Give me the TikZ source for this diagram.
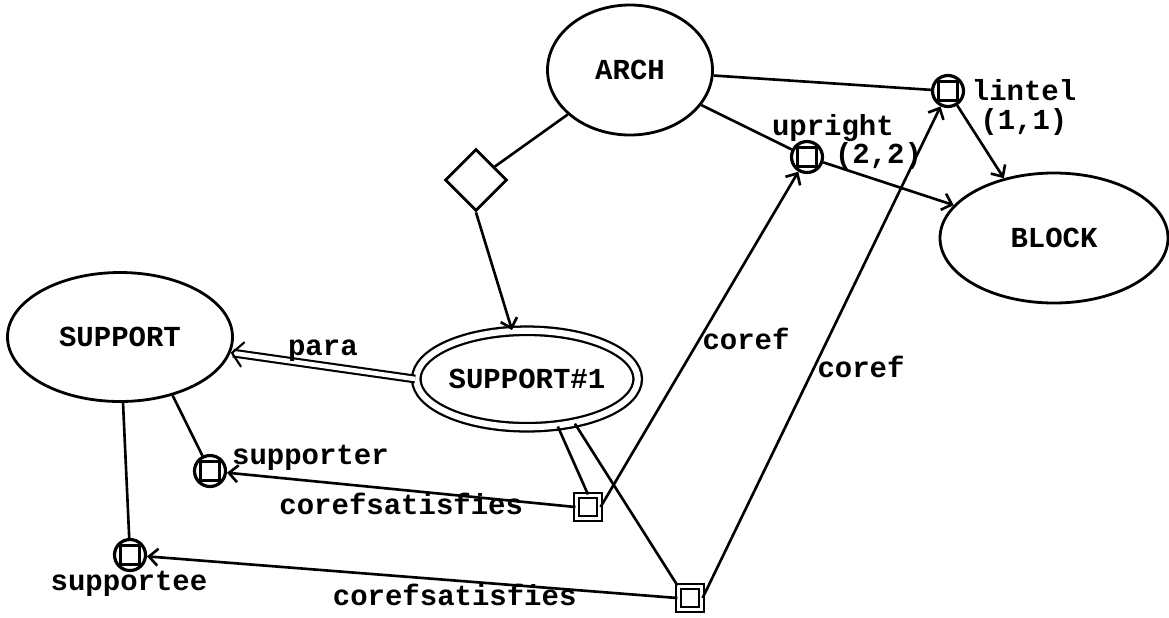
\documentclass[tikz,border=0pt]{standalone}
\usepackage{fontspec}
\setmonofont{Liberation Mono}
\usetikzlibrary{arrows.meta,shapes.geometric}

\begin{document}
\begin{tikzpicture}[
      concepto/.style={ellipse, draw, line width=1.6pt, inner sep=0pt,
        font=\ttfamily\bfseries\fontsize{16.5}{19}\selectfont},
      rol/.style={circle, draw, line width=1.8pt, minimum size=0.62cm, inner sep=0pt,
        path picture={\draw[line width=1.2pt]
          ([shift={(-0.19,-0.19)}]path picture bounding box.center) rectangle
          ([shift={(0.19,0.19)}]path picture bounding box.center);}},
      doble/.style={rectangle, draw, double, double distance=1.8pt, line width=1.2pt,
        minimum size=0.46cm, inner sep=0pt},
      rombo/.style={diamond, draw, line width=1.6pt, minimum width=1.24cm,
        minimum height=1.24cm, inner sep=0pt},
      linea/.style={draw, line width=1.5pt},
      flecha/.style={-{Straight Barb[length=1.8mm,width=3.4mm]}, draw, line width=1.5pt},
      paralelo/.style={double, double distance=2.6pt, line width=1.2pt,
        -{Straight Barb[length=2.2mm,width=5mm]}},
      etiqueta/.style={font=\ttfamily\bfseries\fontsize{16.5}{19}\selectfont, inner sep=1pt},
      dosrenglones/.style={etiqueta, align=left,
        font=\ttfamily\bfseries\fontsize{16.5}{12.8}\selectfont},
    ]
    \useasboundingbox (0,0) rectangle (23.38,-12.34);

    \node[concepto, minimum width=3.3cm, minimum height=2.6cm]   (arch)    at (12.6,-1.4)   {ARCH};
    \node[concepto, minimum width=4.56cm, minimum height=2.6cm]  (block)   at (21.08,-4.76) {BLOCK};
    \node[concepto, minimum width=4.5cm, minimum height=2.58cm]  (support) at (2.4,-6.74)   {SUPPORT};
    \node[concepto, double, double distance=3.5pt, line width=1.3pt,
          minimum width=3.97cm, minimum height=1.93cm]           (sup1)    at (10.54,-7.58) {SUPPORT\#1};
    \node[rombo] (rel) at (9.52,-3.6) {};

    \node[rol] (lintel)    at (18.96,-1.82) {};
    \node[rol] (upright)   at (16.14,-3.14) {};
    \node[rol] (supporter) at (4.2,-9.42)   {};
    \node[rol] (supportee) at (2.6,-11.1)   {};
    \node[doble] (cs1) at (11.76,-10.14) {};
    \node[doble] (cs2) at (13.8,-11.96)  {};

    \node[etiqueta, inner sep=0pt, anchor=west] (tlintel) at (19.43,-1.8)  {lintel};
    \node[etiqueta, inner sep=0pt, anchor=west] (tcard1)  at (19.6,-2.44)  {(1,1)};
    \node[dosrenglones] (tupright)  at (16.94,-2.84) {upright\\\hspace{1.26cm}(2,2)};
    \node[etiqueta, anchor=west] (tsupporter) at (4.6,-9.16) {supporter};
    \node[etiqueta] (tsupportee) at (2.58,-11.68) {supportee};

    \draw[linea] (arch) -- (lintel);
    \draw[linea] (arch) -- (upright);
    \draw[linea] (arch) -- (rel);
    \draw[flecha] (rel.south) -- (sup1);
    \draw[flecha] (upright) -- (block);
    \draw[flecha] (lintel) -- (block.130);
    \draw[paralelo] (sup1.west) -- node[etiqueta, above=1pt] {para} (support);
    \draw[linea] (support.-48) -- (supporter);
    \draw[linea] (support) -- (supportee);
    \draw[linea] (sup1.-57) -- (cs1.north);
    \draw[linea] (sup1.-43) -- (cs2.north west);
    \draw[flecha] (cs1.east) -- node[etiqueta, right, pos=0.5] {coref} (upright);
    \draw[flecha] (cs2.east) -- node[etiqueta, right, pos=0.47] {coref} (lintel);
    \draw[flecha] (cs1.west) -- node[etiqueta, below, pos=0.5] {corefsatisfies} (supporter);
    \draw[flecha] (cs2.west) -- node[etiqueta, below, pos=0.42] {corefsatisfies} (supportee);

  \end{tikzpicture}
\end{document}
